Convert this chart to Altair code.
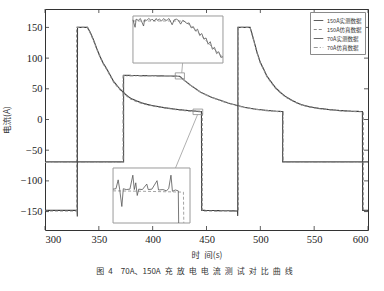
import altair as alt
import pandas as pd

W, H = 323, 221
X_DOM = [300, 600]
Y_DOM = [-180, 180]
X_TICKS = [300, 350, 400, 450, 500, 550, 600]
Y_TICKS = [-150, -100, -50, 0, 50, 100, 150]

SERIES = ["150A实测数据", "150A仿真数据", "70A实测数据", "70A仿真数据"]

T150_MEAS = [300, 329.8, 330.0, 330.2, 339.5, 342, 345, 348, 351, 354, 357.5, 360, 363.7, 367, 370, 373, 376,
             380, 385.5, 390, 395, 400, 410, 420, 430, 437, 445.3, 445.5, 478.8, 479.0, 479.2, 490.5, 493, 497,
             500, 503.4, 506, 509.7, 514, 519, 523, 528, 533, 537.6, 545, 555, 565, 575, 585, 594.8, 595.0, 600]
V150_MEAS = [-148, -148, -158, 150, 150, 142, 130, 116, 103, 92, 82, 74, 62, 55, 49, 44, 39,
             34, 30, 27, 24.5, 22.5, 19.5, 17, 15, 14, 13, -148, -149, -157, 150, 150, 135, 109,
             93, 81, 71, 62, 52, 43.5, 38, 32.6, 28, 24.5, 21, 18, 16, 14.5, 13.5, 13, -148, -148]

T150_SIM = [300, 329.4, 329.4, 339.5, 342, 345, 348, 351, 354, 357.5, 360, 363.7, 367, 370, 373, 376,
            380, 385.5, 390, 395, 400, 410, 420, 430, 437, 446.0, 446.0, 479.6, 479.6, 490.5, 493, 497,
            500, 503.4, 506, 509.7, 514, 519, 523, 528, 533, 537.6, 545, 555, 565, 575, 585, 595.6, 595.6, 600]
V150_SIM = [-149, -149, 150, 150, 141, 129, 115, 102, 91, 81, 73, 61, 54, 48, 43, 38,
            33, 29, 26, 24, 22, 19, 16.5, 14.5, 13.5, 12.5, -149, -149, 150, 150, 134, 108,
            92, 80, 70, 61, 51, 43, 37, 32, 27.5, 24, 20.5, 17.5, 15.5, 14, 13, 12.5, -149, -149]

T70_MEAS = [300, 373.0, 373.0, 390, 410, 425, 430, 435, 440, 445, 450, 455, 460, 465, 470, 478, 485, 495,
            505, 515, 520.7, 520.7, 600]
V70_MEAS = [-69, -69, 72, 71.5, 71, 70.5, 63, 56, 50, 44, 40, 36, 33, 30, 27, 23, 20, 17,
            15, 13.5, 13, -69, -69]

T70_SIM = [300, 372.4, 372.4, 390, 410, 425.5, 430, 435, 440, 445, 450, 455, 460, 465, 470, 478, 485, 495,
           505, 515, 521.3, 521.3, 600]
V70_SIM = [-70, -70, 71, 71, 70.5, 70, 63, 56, 49.5, 43.5, 39.5, 35.5, 32.5, 29.5, 26.5, 22.5, 19.5, 16.5,
           14.5, 13, 12.5, -70, -70]

# zoom marker boxes (t0, t1, v0, v1) and inset boxes in main-axis units
MARK1 = [421.0, 429.5, 66, 76]
MARK2 = [437.5, 446.5, 8, 17]
INSET1_BOX = [381.7, 465.3, 92.0, 168.6]
INSET2_BOX = [363.2, 434.7, -168.6, -79.0]
LINK1 = [427.8, 92.0, 427.0, 76.0]
LINK2 = [441.7, 8.0, 421.2, -79.0]

# inset 1: 70A, end of constant-current stage
IN1_DOM_T = [421.0, 429.5]
IN1_DOM_V = [64.5, 72.0]
IN1_T_MEAS = [421.0, 421.2, 421.3, 421.5, 421.7, 421.8, 422.0, 422.1, 422.3, 422.5, 422.7, 422.8, 423.0, 423.2,
              423.3, 423.5, 423.7, 423.9, 424.0, 424.2, 424.4, 424.5, 424.7, 424.9, 425.1, 425.3, 425.5, 425.7,
              425.9, 426.1, 426.3, 426.5, 426.7, 426.9, 427.1, 427.3, 427.5, 427.7, 427.9, 428.1, 428.3, 428.5,
              428.7, 428.9, 429.1, 429.3, 429.5]
IN1_V_MEAS = [71.4, 70.2, 71.5, 71.3, 71.6, 71.2, 70.4, 71.4, 71.3, 71.6, 71.3, 71.5, 71.2, 71.6,
              71.3, 71.5, 71.2, 71.6, 71.4, 71.3, 71.6, 71.3, 70.6, 71.4, 71.5, 71.3, 70.7, 71.3,
              71.1, 70.8, 70.9, 70.1, 70.3, 69.6, 69.9, 68.9, 69.2, 68.3, 68.5, 67.5, 67.9, 66.7,
              67.0, 66.0, 66.3, 65.4, 65.5]
IN1_T_SIM = [421.0, 425.8, 426.5, 427.0, 427.5, 428.0, 428.5, 429.0, 429.5]
IN1_V_SIM = [71.2, 71.2, 70.4, 69.6, 68.8, 67.9, 67.0, 66.2, 65.4]

# inset 2: 150A, end of charging before discharge
IN2_DOM_T = [436.0, 446.5]
IN2_DOM_V = [5.0, 18.0]
IN2_T_MEAS = [436.0, 436.4, 436.7, 436.9, 437.2, 437.4, 437.8, 438.3, 438.7, 438.9, 439.1, 439.3, 439.5, 440.0,
              440.6, 440.8, 441.3, 442.0, 442.2, 442.8, 443.3, 443.6, 443.9, 444.1, 444.5, 444.9, 444.95]
IN2_V_MEAS = [13.0, 13.1, 15.2, 13.0, 8.9, 13.1, 12.9, 13.0, 16.3, 12.9, 14.5, 11.5, 13.0, 12.9,
              14.2, 12.9, 13.0, 15.0, 12.8, 12.9, 12.6, 13.2, 16.3, 12.5, 12.8, 12.6, 5.0]
IN2_T_SIM = [436.0, 440.0, 445.6, 445.65]
IN2_V_SIM = [12.6, 12.5, 12.3, 5.0]

SP = "\u2002"
CAPTION = "图" + SP + "4" + SP + SP + "70A、150A" + SP + SP.join("充放电电流测试对比曲线")
X_TITLE = "时" + SP + "间(s)"
Y_TITLE = "电流(A)"


def frame(ts, vs, name):
    return pd.DataFrame({"t": ts, "v": vs, "s": name, "i": list(range(len(ts)))})


main_df = pd.concat([
    frame(T150_MEAS, V150_MEAS, SERIES[0]),
    frame(T150_SIM, V150_SIM, SERIES[1]),
    frame(T70_MEAS, V70_MEAS, SERIES[2]),
    frame(T70_SIM, V70_SIM, SERIES[3]),
])

xs = alt.Scale(domain=X_DOM, nice=False, zero=False)
ys = alt.Scale(domain=Y_DOM, nice=False, zero=False)

COLORS = ["#3a3a3a", "#8a8a8a", "#4a4a4a", "#999999"]
DASHES = [[1, 0], [3, 2], [1, 0], [4, 2, 1, 2]]

lines = alt.Chart(main_df).mark_line(strokeWidth=1.1, clip=True).encode(
    x=alt.X("t:Q", scale=xs, axis=alt.Axis(values=X_TICKS, title=X_TITLE, format="d")),
    y=alt.Y("v:Q", scale=ys, axis=alt.Axis(values=Y_TICKS, title=Y_TITLE, format="d")),
    color=alt.Color("s:N", scale=alt.Scale(domain=SERIES, range=COLORS), legend=alt.Legend(title=None)),
    strokeDash=alt.StrokeDash("s:N", scale=alt.Scale(domain=SERIES, range=DASHES), legend=alt.Legend(title=None)),
    order="i:Q",
)

# inner ticks (MATLAB style)
xt = pd.DataFrame({"t": X_TICKS})
yt = pd.DataFrame({"v": Y_TICKS})
tick_x_bot = alt.Chart(xt).mark_rule(color="#333", strokeWidth=0.8).encode(
    x=alt.X("t:Q", scale=xs, axis=None), y=alt.value(H), y2=alt.value(H - 4))
tick_x_top = alt.Chart(xt).mark_rule(color="#333", strokeWidth=0.8).encode(
    x=alt.X("t:Q", scale=xs, axis=None), y=alt.value(0), y2=alt.value(4))
tick_y_left = alt.Chart(yt).mark_rule(color="#333", strokeWidth=0.8).encode(
    y=alt.Y("v:Q", scale=ys, axis=None), x=alt.value(0), x2=alt.value(4))
tick_y_right = alt.Chart(yt).mark_rule(color="#333", strokeWidth=0.8).encode(
    y=alt.Y("v:Q", scale=ys, axis=None), x=alt.value(W), x2=alt.value(W - 4))


def box_df(b):
    return pd.DataFrame({"t0": [b[0]], "t1": [b[1]], "v0": [b[2]], "v1": [b[3]]})


def link_df(l):
    return pd.DataFrame({"t0": [l[0]], "v0": [l[1]], "t1": [l[2]], "v1": [l[3]]})


markers = alt.Chart(pd.concat([box_df(MARK1), box_df(MARK2)])).mark_rect(
    fillOpacity=0, stroke="#8a8a8a", strokeWidth=0.8).encode(
    x=alt.X("t0:Q", scale=xs, axis=None), x2="t1:Q",
    y=alt.Y("v0:Q", scale=ys, axis=None), y2="v1:Q")

links = alt.Chart(pd.concat([link_df(LINK1), link_df(LINK2)])).mark_rule(
    color="#9a9a9a", strokeWidth=0.8).encode(
    x=alt.X("t0:Q", scale=xs, axis=None), x2="t1:Q",
    y=alt.Y("v0:Q", scale=ys, axis=None), y2="v1:Q")

inset_frames = alt.Chart(pd.concat([box_df(INSET1_BOX), box_df(INSET2_BOX)])).mark_rect(
    fill="white", stroke="#9a9a9a", strokeWidth=1).encode(
    x=alt.X("t0:Q", scale=xs, axis=None), x2="t1:Q",
    y=alt.Y("v0:Q", scale=ys, axis=None), y2="v1:Q")


def px_x(t):
    return (t - X_DOM[0]) / (X_DOM[1] - X_DOM[0]) * W


def px_y(v):
    return (Y_DOM[1] - v) / (Y_DOM[1] - Y_DOM[0]) * H


def inset_layers(box, dom_t, dom_v, tm, vm, tsim, vsim):
    sx = alt.Scale(domain=dom_t, range=[px_x(box[0]), px_x(box[1])], nice=False, zero=False)
    sy = alt.Scale(domain=dom_v, range=[px_y(box[2]), px_y(box[3])], nice=False, zero=False)
    sim = alt.Chart(frame(tsim, vsim, "sim")).mark_line(
        color="#9a9a9a", strokeWidth=0.9, strokeDash=[3, 2]).encode(
        x=alt.X("t:Q", scale=sx, axis=None), y=alt.Y("v:Q", scale=sy, axis=None), order="i:Q")
    meas = alt.Chart(frame(tm, vm, "meas")).mark_line(
        color="#555555", strokeWidth=0.8).encode(
        x=alt.X("t:Q", scale=sx, axis=None), y=alt.Y("v:Q", scale=sy, axis=None), order="i:Q")
    return [sim, meas]


in1 = inset_layers(INSET1_BOX, IN1_DOM_T, IN1_DOM_V, IN1_T_MEAS, IN1_V_MEAS, IN1_T_SIM, IN1_V_SIM)
in2 = inset_layers(INSET2_BOX, IN2_DOM_T, IN2_DOM_V, IN2_T_MEAS, IN2_V_MEAS, IN2_T_SIM, IN2_V_SIM)

chart = alt.layer(
    lines, markers, links, inset_frames, *in1, *in2,
    tick_x_bot, tick_x_top, tick_y_left, tick_y_right,
).resolve_scale(
    x="independent", y="independent"
).properties(
    width=W, height=H,
    title=alt.TitleParams(
        text=CAPTION,
        orient="bottom", font="Noto Sans CJK SC", fontSize=8, fontWeight="normal",
        color="#333", offset=9, dx=-12,
    ),
    autosize=alt.AutoSizeParams(type="none"),
    padding={"left": 45, "top": 9, "right": 16, "bottom": 61},
).configure_view(
    stroke="#333", strokeWidth=1
).configure_axis(
    grid=False, domain=False, tickSize=0,
    labelFont="Liberation Serif", labelFontSize=10.5, labelColor="#222",
    titleFont="Noto Sans CJK SC", titleFontSize=8.5, titleFontWeight="normal", titleColor="#333",
).configure_axisX(
    labelPadding=4, titlePadding=6,
).configure_axisY(
    labelPadding=3, titlePadding=9,
).configure_legend(
    orient="top-right", offset=3, fillColor="white", strokeColor="#8a8a8a",
    padding=3, rowPadding=0, symbolType="stroke", symbolSize=90, symbolStrokeWidth=1,
    labelFont="Noto Sans CJK SC", labelFontSize=5.5, labelColor="#333", labelOffset=3,
)

chart.save("out.html", embed_options={"renderer": "svg", "actions": False})
